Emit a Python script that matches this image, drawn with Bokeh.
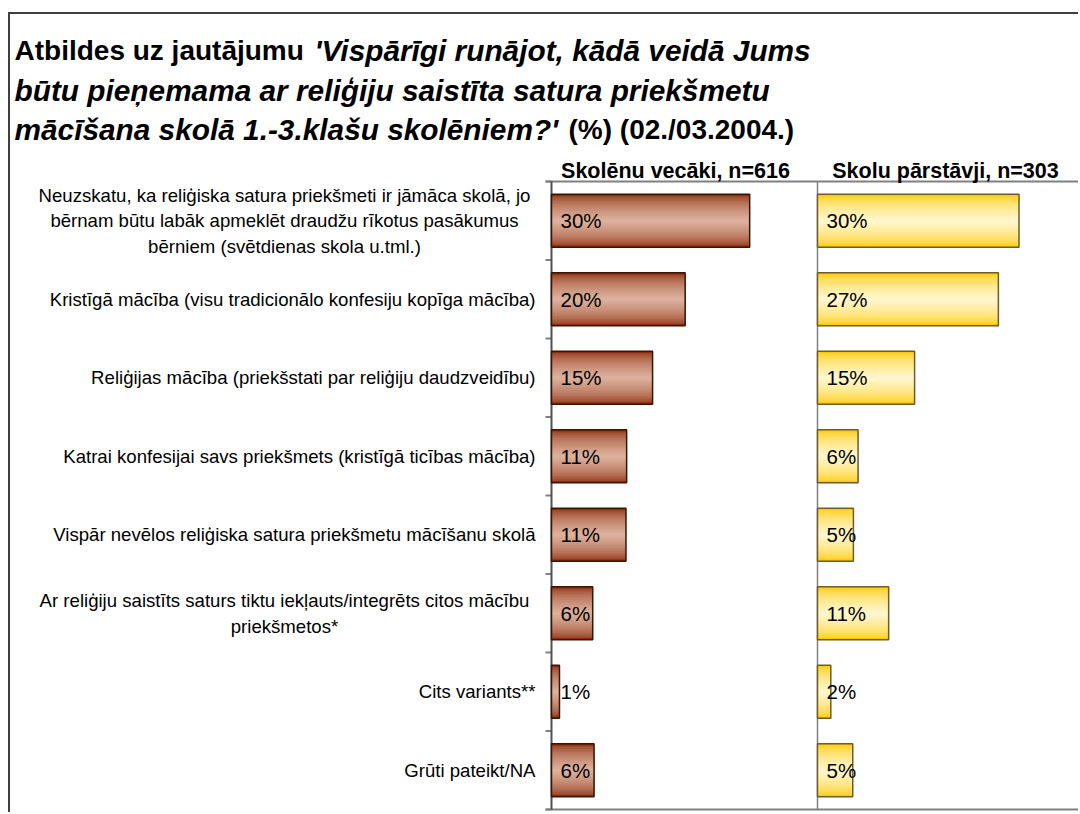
from bokeh.plotting import figure
from bokeh.models import Range1d, ColumnDataSource
from bokeh.core.properties import value
from bokeh.embed import file_html
from bokeh.resources import INLINE

# ---------------- data ----------------
categories = [
    "Neuzskatu, ka reliģiska satura priekšmeti ir jāmāca skolā, jo\nbērnam būtu labāk apmeklēt draudžu rīkotus pasākumus\nbērniem (svētdienas skola u.tml.)",
    "Kristīgā mācība (visu tradicionālo konfesiju kopīga mācība)",
    "Reliģijas mācība (priekšstati par reliģiju daudzveidību)",
    "Katrai konfesijai savs priekšmets (kristīgā ticības mācība)",
    "Vispār nevēlos reliģiska satura priekšmetu mācīšanu skolā",
    "Ar reliģiju saistīts saturs tiktu iekļauts/integrēts citos mācību\npriekšmetos*",
    "Cits variants**",
    "Grūti pateikt/NA",
]
parents = [29.8, 20.1, 15.2, 11.3, 11.2, 6.2, 1.2, 6.4]   # Skolēnu vecāki, n=616
schools = [30.3, 27.2, 14.6, 6.1, 5.4, 10.7, 2.0, 5.3]    # Skolu pārstāvji, n=303
panel_titles = ["Skolēnu vecāki, n=616", "Skolu pārstāvji, n=303"]
title_segments = [
    # (line, text, style)
    (0, "Atbildes uz jautājumu ", "bold"),
    (0, "'Vispārīgi runājot, kādā veidā Jums", "bold italic"),
    (1, "būtu pieņemama ar reliģiju saistīta satura priekšmetu", "bold italic"),
    (2, "mācīšana skolā 1.-3.klašu skolēniem?'", "bold italic"),
    (2, " (%) (02./03.2004.)", "bold"),
]

# ---------------- layout constants (page pixels) ----------------
FONT = "Liberation Sans"
ORIG_X, ORIG_Y = 10, 14          # canvas origin on page (after css margin + border)
W, H = 1070, 800
AX_L = 551                       # left panel axis (page x)
AX_R = 817                       # right panel axis (page x)
TOP, BOT = 181, 809              # plot area top / bottom (page y)
PANEL = 40                       # % span of each panel
PX = (AX_R - AX_L) / PANEL       # px per %
n = len(categories)
PITCH = (BOT - TOP) / n          # px per category
TICK = 6 / PX

def dx(xa, ax=AX_L):
    return (xa - ax) / PX

def dy(ya):
    return (ya - TOP) / PITCH

p = figure(width=W, height=H,
           x_range=Range1d(dx(ORIG_X), dx(ORIG_X + W)),
           y_range=Range1d(dy(ORIG_Y + H), dy(ORIG_Y)),
           output_backend="svg", toolbar_location=None,
           x_axis_type=None, y_axis_type=None,
           min_border=0, min_border_left=0, min_border_right=0,
           min_border_top=0, min_border_bottom=0)
p.extra_x_ranges = {"right": Range1d(dx(ORIG_X, AX_R), dx(ORIG_X + W, AX_R))}
p.styles = {"border-left": "2px solid #404040", "border-top": "2px solid #404040",
            "margin-top": "12px", "margin-left": "8px"}
p.outline_line_color = None
p.xgrid.visible = False
p.ygrid.visible = False

# ---- axes drawn through the scales ----
ticks = list(range(n + 1))
p.segment(x0=[-TICK] * (n + 1), x1=[0] * (n + 1), y0=ticks, y1=ticks,
          line_color="#808080", line_width=2)
p.segment(x0=[-TICK, -TICK], x1=[dx(ORIG_X + W)] * 2, y0=[0, n], y1=[0, n],
          line_color="#808080", line_width=2)
p.segment(x0=[0], x1=[0], y0=[0], y1=[n], line_color="#505050", line_width=2)
p.segment(x0=[0], x1=[0], y0=[0], y1=[n], line_color="#808080", line_width=1.5,
          x_range_name="right")

ys = [i + 0.5 for i in range(n)]
src = ColumnDataSource(dict(
    y=ys, parents=parents, schools=schools,
    plab=[f"{round(v)}%" for v in parents],
    slab=[f"{round(v)}%" for v in schools],
))

BAR_H = 0.675
NL = 16

def mix(c1, c2, t):
    a = [int(c1[i:i + 2], 16) for i in (1, 3, 5)]
    b = [int(c2[i:i + 2], 16) for i in (1, 3, 5)]
    return "#" + "".join(f"{round(a[j] + (b[j] - a[j]) * t):02x}" for j in range(3))

def gradient_bars(col, edge, center, outline, rng):
    kw = {} if rng is None else {"x_range_name": rng}
    for k in range(NL):
        t = min(1.0, (k / (NL - 1)) ** 0.55)
        p.hbar(y="y", left=0, right=col, height=BAR_H * (1 - k / NL),
               fill_color=mix(edge, center, t), line_color=None, source=src, **kw)
    p.hbar(y="y", left=0, right=col, height=BAR_H, fill_color=None,
           line_color=outline, line_width=1.5, source=src, **kw)

gradient_bars("parents", "#8c2a0a", "#dcb09c", "#3a1505", None)
gradient_bars("schools", "#ffc800", "#fff6cc", "#6e5c2a", "right")

common = dict(text_font=value(FONT), text_color="black")
p.text(x=0, y="y", text="plab", source=src, x_offset=9, text_align="left",
       text_baseline="middle", text_font_size="20.5px", **common)
p.text(x=0, y="y", text="slab", source=src, x_offset=9, text_align="left",
       text_baseline="middle", text_font_size="20.5px", x_range_name="right", **common)

# ---- category labels ----
LINE = 25.5 / PITCH
s_y, s_t, m_y, m_t = [], [], [], []
for i, c in enumerate(categories):
    lines = c.split("\n")
    if len(lines) == 1:
        s_y.append(i + 0.5); s_t.append(c)
    else:
        for j, ln in enumerate(lines):
            m_y.append(i + 0.5 + (j - (len(lines) - 1) / 2) * LINE); m_t.append(ln)
LBL_SIZE = "18.6px"
p.text(x=[dx(535)] * len(s_y), y=s_y, text=s_t, text_align="right",
       text_baseline="middle", text_font_size=LBL_SIZE, **common)
p.text(x=[dx(284)] * len(m_y), y=m_y, text=m_t, text_align="center",
       text_baseline="middle", text_font_size=LBL_SIZE, **common)

# ---- panel headers ----
p.text(x=[dx(675)], y=[dy(170)], text=[panel_titles[0]], text_align="center",
       text_baseline="alphabetic", text_font_size="21.5px", text_font_style="bold", **common)
p.text(x=[dx(945, AX_R)], y=[dy(170)], text=[panel_titles[1]], text_align="center",
       text_baseline="alphabetic", text_font_size="21.5px", text_font_style="bold",
       x_range_name="right", **common)

# ---- title ----
line_base = [50, 90, 129]
seg_x = {(0, 0): 14, (0, 1): 314, (1, 0): 14, (2, 0): 14, (2, 1): 568}
size_for = {"bold": "28px", "bold italic": "29.8px"}
counts = {}
for ln, txt, style in title_segments:
    k = counts.get(ln, 0); counts[ln] = k + 1
    p.text(x=[dx(seg_x[(ln, k)])], y=[dy(line_base[ln])], text=[txt], text_align="left",
           text_baseline="alphabetic", text_font_size=size_for[style],
           text_font_style=style, **common)

open("out.html", "w").write(file_html(p, INLINE))
